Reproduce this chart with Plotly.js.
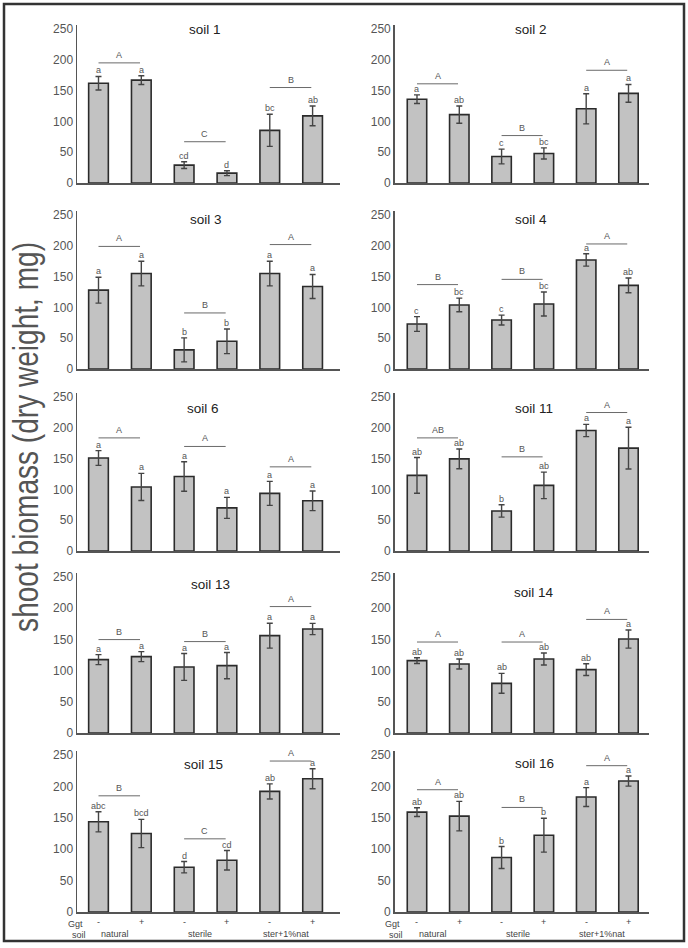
<!DOCTYPE html>
<html>
<head>
<meta charset="utf-8">
<script src="https://cdn.plot.ly/plotly-3.0.1.min.js"></script>
<style>html,body{margin:0;padding:0;background:#fff;}#chart{width:688px;height:948px;}</style>
</head>
<body>
<div id="chart"></div>
<script>
// ---------- DATA ----------
const panelTitles = ["soil 1","soil 2","soil 3","soil 4","soil 6","soil 11","soil 13","soil 14","soil 15","soil 16"];
const ggtLabels = ["-","+","-","+","-","+"];
const soilTypes = ["natural","sterile","ster+1%nat"];
const yTickVals = [0,50,100,150,200,250];

const soil1Mean = [162,167,29,16,85.5,109];
const soil1Err = [11,7,5.5,4,26,16];
const soil1Letters = ["a","a","cd","d","bc","ab"];
const soil1GroupY = [195,67,155];
const soil1Groups = ["A","C","B"];

const soil2Mean = [136,111,43,48,120.5,145.5];
const soil2Err = [7,14,12,9,24.5,14.5];
const soil2Letters = ["a","ab","c","bc","a","a"];
const soil2GroupY = [161,77,183];
const soil2Groups = ["A","B","A"];

const soil3Mean = [128,155,31,45,155,134];
const soil3Err = [21,20,19.5,20,20,19.5];
const soil3Letters = ["a","a","b","b","a","a"];
const soil3GroupY = [199,91,202];
const soil3Groups = ["A","B","A"];

const soil4Mean = [73,104,79.5,105.5,177,135.7];
const soil4Err = [12,11,8,19.5,10,12];
const soil4Letters = ["c","bc","c","bc","a","ab"];
const soil4GroupY = [137,145.5,203];
const soil4Groups = ["B","B","A"];

const soil6Mean = [151,104,121,70,93.5,81.5];
const soil6Err = [12,22,24,17,19.5,16];
const soil6Letters = ["a","a","a","a","a","a"];
const soil6GroupY = [183.6,169.7,136.6];
const soil6Groups = ["A","A","A"];

const soil11Mean = [122.7,149.6,65,106.5,195.6,167];
const soil11Err = [29,16,10,21.5,10,34];
const soil11Letters = ["ab","ab","b","ab","a","a"];
const soil11GroupY = [183.6,152.8,224.8];
const soil11Groups = ["AB","B","A"];

const soil13Mean = [117.6,122.4,105.8,108,156,166.7];
const soil13Err = [8,8,21.5,21,20,9];
const soil13Letters = ["a","a","a","a","a","a"];
const soil13GroupY = [149.7,146.5,202.6];
const soil13Groups = ["B","B","A"];

const soil14Mean = [116,110.6,79.6,118.6,101.6,150.6];
const soil14Err = [4.5,8,16,9.5,9.5,14.5];
const soil14Letters = ["ab","ab","ab","ab","ab","a"];
const soil14GroupY = [145.8,145.8,182];
const soil14Groups = ["A","A","A"];

const soil15Mean = [143.6,125,71.3,82.4,192,212.2];
const soil15Err = [16,22.5,9,15.5,12,16];
const soil15Letters = ["abc","bcd","d","cd","ab","a"];
const soil15GroupY = [185,116.5,240.4];
const soil15Groups = ["B","C","A"];

const soil16Mean = [159,152.7,86.7,122.3,183,208.5];
const soil16Err = [7,23.5,17.5,27,15,8];
const soil16Letters = ["ab","ab","b","b","a","a"];
const soil16GroupY = [194.7,166.5,233];
const soil16Groups = ["A","B","A"];

const panels = [
  [soil1Mean, soil1Err, soil1Letters, soil1GroupY, soil1Groups],
  [soil2Mean, soil2Err, soil2Letters, soil2GroupY, soil2Groups],
  [soil3Mean, soil3Err, soil3Letters, soil3GroupY, soil3Groups],
  [soil4Mean, soil4Err, soil4Letters, soil4GroupY, soil4Groups],
  [soil6Mean, soil6Err, soil6Letters, soil6GroupY, soil6Groups],
  [soil11Mean, soil11Err, soil11Letters, soil11GroupY, soil11Groups],
  [soil13Mean, soil13Err, soil13Letters, soil13GroupY, soil13Groups],
  [soil14Mean, soil14Err, soil14Letters, soil14GroupY, soil14Groups],
  [soil15Mean, soil15Err, soil15Letters, soil15GroupY, soil15Groups],
  [soil16Mean, soil16Err, soil16Letters, soil16GroupY, soil16Groups]
];

// ---------- LAYOUT GEOMETRY ----------
const W = 688, H = 948;
const FONT = "Liberation Sans, Arial, Helvetica, sans-serif";
const rowP250 = [29, 215, 397, 577, 755];
const rowP0 = [183, 369, 551, 733, 912];
const YMAX = 256;
const colDomPx = [[77, 340], [394.7, 649]];
const colRange = [[-0.502, 5.64], [-0.527, 5.485]];
const titlePos = [[205,29],[531,29],[206,219],[531,219],[203,408],[534,408],[210,584],[534,592],[203,764],[534,763]];

const data = [];
const layout = {
  width: W, height: H,
  margin: {l:0, r:0, t:0, b:0},
  paper_bgcolor: "#fff", plot_bgcolor: "#fff",
  showlegend: false,
  font: {family: FONT, color: "#555"},
  annotations: [], shapes: []
};

panels.forEach((p, k) => {
  const [mean, err, letters, gy, groups] = p;
  const row = Math.floor(k / 2), col = k % 2;
  const n = k + 1;
  const xa = "x" + (n > 1 ? n : ""), ya = "y" + (n > 1 ? n : "");
  const xKey = "xaxis" + (n > 1 ? n : ""), yKey = "yaxis" + (n > 1 ? n : "");
  const p0 = rowP0[row], p250 = rowP250[row];
  const topPx = p0 - (p0 - p250) * YMAX / 250;
  const xs = mean.map((_, i) => i);

  data.push({
    type: "bar", x: xs, y: mean, xaxis: xa, yaxis: ya, width: 0.46,
    marker: {color: "#c2c2c2", line: {color: "#2b2b2b", width: 1.6}},
    error_y: {type: "data", array: err, visible: true, color: "#444", thickness: 1.4, width: 3},
    hoverinfo: "skip"
  });

  layout[xKey] = {
    domain: [colDomPx[col][0] / W, colDomPx[col][1] / W],
    range: colRange[col], anchor: ya,
    showline: true, linecolor: "#555", linewidth: 1.5,
    showgrid: false, zeroline: false, showticklabels: false, ticks: "", fixedrange: true
  };
  layout[yKey] = {
    domain: [1 - p0 / H, 1 - topPx / H],
    range: [0, YMAX], anchor: xa,
    showline: true, linecolor: "#555", linewidth: 1.5,
    showgrid: false, zeroline: false, ticks: "",
    tickvals: yTickVals, ticktext: yTickVals.map(String),
    tickfont: {size: 12, color: "#555", family: FONT}, fixedrange: true
  };

  // panel title
  layout.annotations.push({
    xref: "paper", yref: "paper", x: titlePos[k][0] / W, y: 1 - titlePos[k][1] / H,
    text: panelTitles[k], showarrow: false, xanchor: "center", yanchor: "middle",
    font: {size: 13.5, color: "#222", family: FONT}
  });

  // significance letters over bars
  xs.forEach(i => {
    layout.annotations.push({
      xref: xa, yref: ya, x: i, y: mean[i] + err[i], text: letters[i],
      showarrow: false, xanchor: "center", yanchor: "bottom", yshift: -1,
      font: {size: 9, color: "#555", family: FONT}
    });
  });

  // group lines and letters
  gy.forEach((g, j) => {
    const x0 = 2 * j, x1 = 2 * j + 0.97;
    layout.shapes.push({
      type: "line", xref: xa, yref: ya, x0: x0, x1: x1, y0: g, y1: g,
      line: {color: "#6a6a6a", width: 1}
    });
    layout.annotations.push({
      xref: xa, yref: ya, x: (x0 + x1) / 2, y: g, text: groups[j],
      showarrow: false, xanchor: "center", yanchor: "bottom", yshift: 1,
      font: {size: 9, color: "#555", family: FONT}
    });
  });

  // bottom-row category labels
  if (row === 4) {
    const axLeft = colDomPx[col][0];
    layout.annotations.push({
      xref: "paper", yref: "paper", x: (axLeft - 2) / W, y: 1 - 924 / H, text: "Ggt",
      showarrow: false, xanchor: "center", yanchor: "middle",
      font: {size: 9, color: "#444", family: FONT}
    });
    layout.annotations.push({
      xref: "paper", yref: "paper", x: (axLeft + 1.5) / W, y: 1 - 934.5 / H, text: "soil",
      showarrow: false, xanchor: "center", yanchor: "middle",
      font: {size: 9, color: "#444", family: FONT}
    });
    ggtLabels.forEach((t, i) => {
      layout.annotations.push({
        xref: xa, yref: "paper", x: i, y: 1 - 922 / H, text: t,
        showarrow: false, xanchor: "center", yanchor: "middle",
        font: {size: 9, color: "#444", family: FONT}
      });
    });
    soilTypes.forEach((t, j) => {
      layout.annotations.push({
        xref: xa, yref: "paper", x: 2 * j + 0.5 - 0.12, y: 1 - 934 / H, text: t,
        showarrow: false, xanchor: "center", yanchor: "middle",
        font: {size: 9, color: "#444", family: FONT}
      });
    });
  }
});

// y-axis title
const yTitleText = "shoot biomass (dry weight, mg)";
layout.annotations.push({
  xref: "paper", yref: "paper", x: 25 / W, y: 1 - 437 / H,
  text: yTitleText, showarrow: false, textangle: -90,
  xanchor: "center", yanchor: "middle",
  font: {size: 36, color: "#555", family: FONT}
});

// outer frame
layout.shapes.push({
  type: "rect", xref: "paper", yref: "paper",
  x0: 4 / W, x1: 684 / W, y0: 1 - 941 / H, y1: 1 - 4 / H,
  line: {color: "#333", width: 2.5}, fillcolor: "rgba(0,0,0,0)"
});

Plotly.newPlot("chart", data, layout, {displayModeBar: false, staticPlot: true}).then(gd => {
  // the original axis title uses a condensed face: compress it along its reading direction
  gd.querySelectorAll("text.annotation-text").forEach(t => {
    if (t.textContent === yTitleText) {
      const bb = t.getBBox();
      const cx = bb.x + bb.width / 2;
      t.setAttribute("transform", `translate(${cx},0) scale(0.78,1) translate(${-cx},0)`);
    }
  });
});
</script>
</body>
</html>
